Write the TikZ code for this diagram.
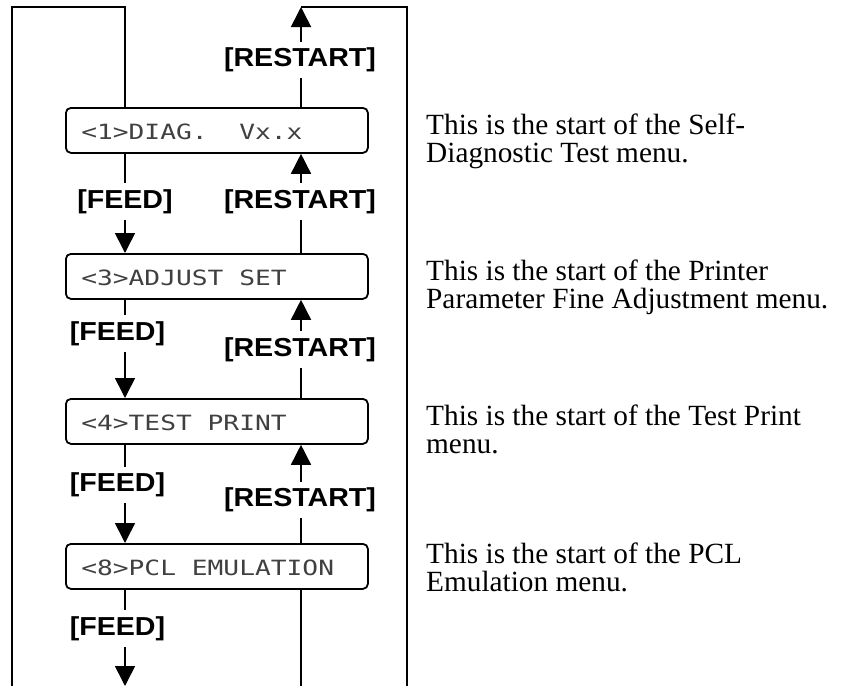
\documentclass[tikz,border=0pt]{standalone}
\usepackage{fontspec}
\setmainfont{Liberation Serif}
\newfontfamily\lblfont[FakeStretch=1.1]{Liberation Sans}
\newfontfamily\lcdfont{DejaVu Sans Mono}
\usetikzlibrary{arrows.meta,calc}
\tikzset{
  menubox/.style={draw, line width=1.8pt, rounded corners=5pt, minimum width=302pt, minimum height=45pt, inner sep=0pt, anchor=north west},
  lcdtext/.style={font=\lcdfont\fontsize{21}{23}\selectfont, text=black!75, anchor=base west, inner sep=0pt, xscale=1.25, transform shape},
  keylbl/.style={font=\lblfont\bfseries\fontsize{26}{28}\selectfont, inner sep=6pt},
  desc/.style={font=\fontsize{29.3}{28}\selectfont, anchor=base west, align=left, inner sep=0pt},
  wire/.style={line width=1.6pt},
  arr/.style={line width=1.6pt, -{Triangle[length=20pt,width=20pt]}}
}
\begin{document}
\begin{tikzpicture}[x=1pt,y=-1pt]
\useasboundingbox (0,0) rectangle (841,686);
\coordinate (L) at (125,0);
\coordinate (R) at (301,0);
\coordinate (topL) at (125,7);
\coordinate (farL) at (12,7);
\coordinate (farLb) at (12,686);
\coordinate (topR) at (301,7);
\coordinate (farR) at (407,7);
\coordinate (farRb) at (407,686);
\coordinate (botL) at (125,686);
\coordinate (botR) at (301,686);

% boxes
\node[menubox] (b1) at (65,107) {};
\node[menubox] (b2) at (65,253) {};
\node[menubox] (b3) at (65,398) {};
\node[menubox] (b4) at (65,543) {};
\node[lcdtext] (t1) at (81,139.5) {<1>DIAG.\ \ Vx.x};
\node[lcdtext] (t2) at (81,285) {<3>ADJUST SET};
\node[lcdtext] (t3) at (81,430) {<4>TEST PRINT};
\node[lcdtext] (t4) at (81,575) {<8>PCL EMULATION};

% key labels
\node[keylbl] (r0) at (300,60) {[RESTART]};
\node[keylbl] (f1) at (125,201.5) {[FEED]};
\node[keylbl] (r1) at (300,201.5) {[RESTART]};
\node[keylbl] (f2) at (117.5,333.5) {[FEED]};
\node[keylbl] (r2) at (300,349.5) {[RESTART]};
\node[keylbl] (f3) at (117.5,485) {[FEED]};
\node[keylbl] (r3) at (300,500) {[RESTART]};
\node[keylbl] (f4) at (117.5,628.5) {[FEED]};

% descriptions (anchor at baseline of last line)
\node[desc] (d1) at (426,162) {This is the start of the Self-\\Diagnostic Test menu.};
\node[desc] (d2) at (426,308) {This is the start of the Printer\\Parameter Fine Adjustment menu.};
\node[desc] (d3) at (426,453) {This is the start of the Test Print\\menu.};
\node[desc] (d4) at (426,591) {This is the start of the PCL\\Emulation menu.};

% outer loops
\draw[wire] (b1.north -| L) -- (topL) -- (farL) -- (farLb);
\draw[wire] (topR) -- (farR) -- (farRb);

% FEED column
\draw[wire] (b1.south -| L) -- (f1.north -| L);
\draw[arr] (f1.south -| L) -- (b2.north -| L);
\draw[wire] (b2.south -| L) -- (f2.north -| L);
\draw[arr] (f2.south -| L) -- (b3.north -| L);
\draw[wire] (b3.south -| L) -- (f3.north -| L);
\draw[arr] (f3.south -| L) -- (b4.north -| L);
\draw[wire] (b4.south -| L) -- (f4.north -| L);
\draw[arr] (f4.south -| L) -- (botL);

% RESTART column
\draw[wire] (b1.north -| R) -- (r0.south -| R);
\draw[arr] (r0.north -| R) -- (topR);
\draw[wire] (b2.north -| R) -- (r1.south -| R);
\draw[arr] (r1.north -| R) -- (b1.south -| R);
\draw[wire] (b3.north -| R) -- (r2.south -| R);
\draw[arr] (r2.north -| R) -- (b2.south -| R);
\draw[wire] (b4.north -| R) -- (r3.south -| R);
\draw[arr] (r3.north -| R) -- (b3.south -| R);
\draw[wire] (b4.south -| R) -- (botR);
\end{tikzpicture}
\end{document}
